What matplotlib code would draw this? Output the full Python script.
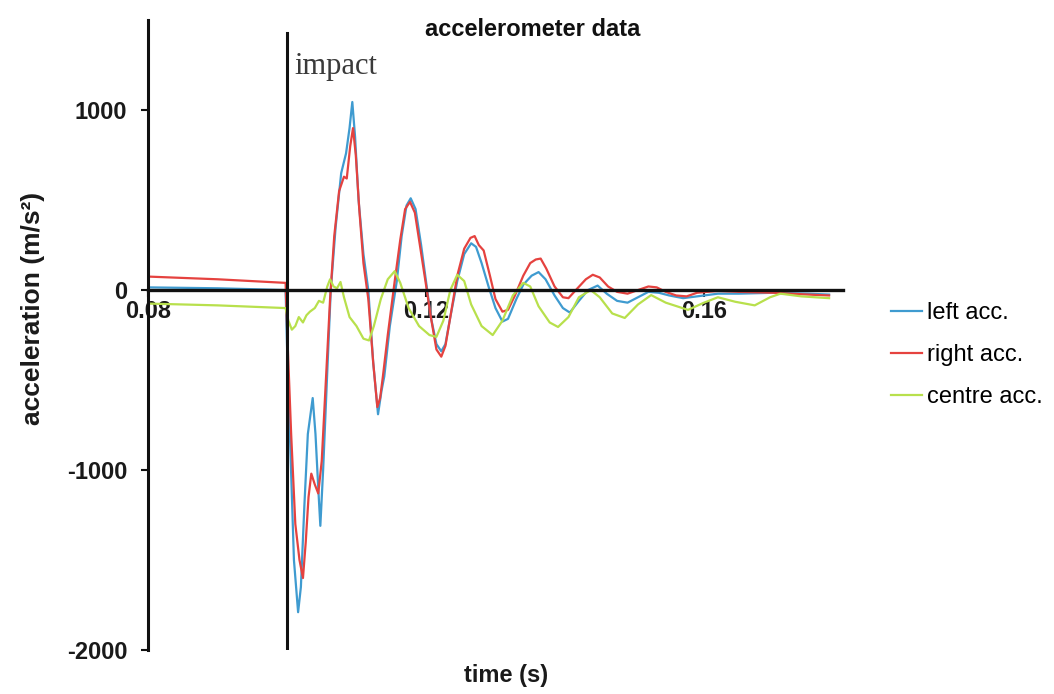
import matplotlib
matplotlib.use("Agg")
import matplotlib.pyplot as plt
import numpy as np

plt.rcParams['font.family'] = ['Liberation Sans', 'DejaVu Sans']
plt.rcParams['axes.unicode_minus'] = False

# left accelerometer (blue)
t_left = [0.080, 0.090, 0.095, 0.0998, 0.1000, 0.1005, 0.1010, 0.1016, 0.1020, 0.1025,
          0.1030, 0.1037, 0.1041, 0.1045, 0.1048, 0.1052, 0.1058, 0.1063, 0.1070, 0.1078,
          0.1085, 0.1090, 0.1094, 0.1098, 0.1103, 0.1110, 0.1117, 0.1124, 0.1131, 0.1136,
          0.1140, 0.1148, 0.1158, 0.1165, 0.1172, 0.1178, 0.1185, 0.1193, 0.1200, 0.1207,
          0.1215, 0.1222, 0.1228, 0.1235, 0.1245, 0.1255, 0.1265, 0.1272, 0.1280, 0.1290,
          0.1300, 0.1310, 0.1318, 0.1330, 0.1340, 0.1352, 0.1362, 0.1372, 0.1385, 0.1397,
          0.1407, 0.1420, 0.1433, 0.1447, 0.1460, 0.1475, 0.1490, 0.1505, 0.1520, 0.1535,
          0.1550, 0.1570, 0.1590, 0.1620, 0.1650, 0.1700, 0.1750, 0.1780]
a_left = [15, 10, 5, 0, -300, -900, -1500, -1790, -1650, -1200,
          -800, -600, -800, -1100, -1310, -1000, -450, 0, 350, 650,
          760, 900, 1045, 850, 500, 200, 0, -400, -690, -560,
          -480, -200, 50, 300, 470, 510, 450, 250, 50, -150,
          -300, -340, -300, -150, 50, 200, 260, 240, 150, 20,
          -100, -175, -160, -50, 30, 80, 100, 60, -30, -100,
          -125, -60, 0, 25, -20, -60, -70, -40, -10, -15,
          -30, -45, -35, -20, -20, -15, -20, -25]

# right accelerometer (red)
t_right = [0.080, 0.090, 0.0998, 0.1000, 0.1006, 0.1012, 0.1018, 0.1023, 0.1027, 0.1031,
           0.1035, 0.1040, 0.1045, 0.1050, 0.1056, 0.1062, 0.1068, 0.1075, 0.1082, 0.1086,
           0.1091, 0.1095, 0.1099, 0.1104, 0.1110, 0.1117, 0.1124, 0.1130, 0.1134, 0.1138,
           0.1145, 0.1155, 0.1163, 0.1170, 0.1177, 0.1184, 0.1192, 0.1200, 0.1207, 0.1215,
           0.1222, 0.1228, 0.1235, 0.1245, 0.1255, 0.1264, 0.1270, 0.1276, 0.1283, 0.1292,
           0.1300, 0.1310, 0.1318, 0.1328, 0.1340, 0.1350, 0.1358, 0.1365, 0.1373, 0.1385,
           0.1397, 0.1405, 0.1418, 0.1430, 0.1440, 0.1450, 0.1462, 0.1475, 0.1490, 0.1505,
           0.1520, 0.1532, 0.1545, 0.1560, 0.1575, 0.1590, 0.1620, 0.1650, 0.1700, 0.1750,
           0.1780]
a_right = [75, 60, 40, -200, -800, -1300, -1500, -1600, -1400, -1150,
           -1020, -1080, -1130, -950, -500, -50, 300, 550, 630, 620,
           800, 900, 750, 450, 150, -50, -400, -650, -600, -480,
           -250, 50, 280, 450, 490, 430, 230, 30, -150, -330,
           -370, -310, -150, 80, 230, 290, 300, 250, 220, 80,
           -50, -120, -110, -30, 80, 150, 170, 175, 120, 20,
           -40, -45, 10, 60, 85, 70, 20, -10, -20, 0,
           20, 15, -10, -30, -35, -15, -5, -10, -15, -25,
           -30]

# centre accelerometer (green)
t_centre = [0.080, 0.090, 0.0998, 0.1002, 0.1007, 0.1012, 0.1017, 0.1023, 0.1028, 0.1033,
            0.1040, 0.1046, 0.1052, 0.1058, 0.1062, 0.1067, 0.1072, 0.1077, 0.1082, 0.1090,
            0.1100, 0.1110, 0.1118, 0.1125, 0.1135, 0.1145, 0.1155, 0.1163, 0.1175, 0.1190,
            0.1205, 0.1215, 0.1225, 0.1235, 0.1245, 0.1255, 0.1265, 0.1280, 0.1296, 0.1310,
            0.1325, 0.1340, 0.1350, 0.1362, 0.1378, 0.1390, 0.1405, 0.1420, 0.1437, 0.1450,
            0.1468, 0.1486, 0.1505, 0.1524, 0.1545, 0.1577, 0.1600, 0.1620, 0.1645, 0.1673,
            0.1695, 0.1710, 0.1740, 0.1780]
a_centre = [-75, -85, -100, -170, -220, -200, -150, -180, -140, -120,
            -100, -60, -70, 20, 60, 20, 10, 45, -40, -150,
            -200, -270, -280, -200, -50, 60, 105, 40, -100, -200,
            -250, -260, -170, 0, 85, 50, -80, -200, -250, -170,
            -30, 40, 20, -90, -180, -205, -150, -40, 0, -40,
            -130, -155, -80, -28, -70, -110, -70, -40, -65, -85,
            -40, -20, -35, -45]

t_impact = 0.1
x_ticks = [0.08, 0.12, 0.16]
x_ticklabels = ['0.08', '0.12', '0.16']
y_ticks = [-2000, -1000, 0, 1000]

fig = plt.figure(figsize=(10.54, 6.94), dpi=100)
ax = fig.add_axes([0.1404, 0.0634, 0.6594, 0.9076])

ax.plot(t_left, a_left, color='#3f9bd0', lw=1.6, label='left acc.')
ax.plot(t_right, a_right, color='#e5423f', lw=1.6, label='right acc.')
ax.plot(t_centre, a_centre, color='#b8e04c', lw=1.6, label='centre acc.')

# impact marker
ax.plot([t_impact, t_impact], [-2000, 1430], color='#111111', lw=2.2, zorder=5)
ax.text(0.1010, 1240, 'impact', family=['Liberation Serif', 'DejaVu Serif'],
        fontsize=22, color='#3a3a3a', va='center', ha='left')

ax.set_xlim(0.08, 0.18)
ax.set_ylim(-2000, 1500)

for s in ['top', 'right']:
    ax.spines[s].set_visible(False)
ax.spines['left'].set_linewidth(2.2)
ax.spines['left'].set_color('#111111')
ax.spines['bottom'].set_position(('data', 0))
ax.spines['bottom'].set_linewidth(2.4)
ax.spines['bottom'].set_color('#111111')
ax.spines['bottom'].set_zorder(4)

ax.set_xticks(x_ticks)
ax.set_xticklabels(x_ticklabels)
ax.set_yticks(y_ticks)
ax.tick_params(axis='both', direction='out', length=5, width=1.5, color='#111111',
               labelsize=17, labelcolor='#1a1a1a')
ax.tick_params(axis='x', pad=2)
ax.tick_params(axis='y', pad=10)
for lab in ax.get_xticklabels() + ax.get_yticklabels():
    lab.set_fontweight('bold')

fig.text(0.031, 0.555, 'acceleration (m/s²)', fontsize=19, fontweight='bold',
         color='#1a1a1a', rotation=90, ha='center', va='center')
fig.text(0.480, 0.027, 'time (s)', fontsize=17, fontweight='bold', color='#1a1a1a',
         ha='center', va='center')
fig.text(0.505, 0.957, 'accelerometer data', fontsize=17, fontweight='bold',
         color='#111111', ha='center', va='center')

fig.legend(loc='upper left', bbox_to_anchor=(0.836, 0.578), frameon=False,
           fontsize=17, handlelength=1.35, handletextpad=0.2, labelspacing=0.85,
           borderaxespad=0)

fig.savefig('out.png', dpi=100)
